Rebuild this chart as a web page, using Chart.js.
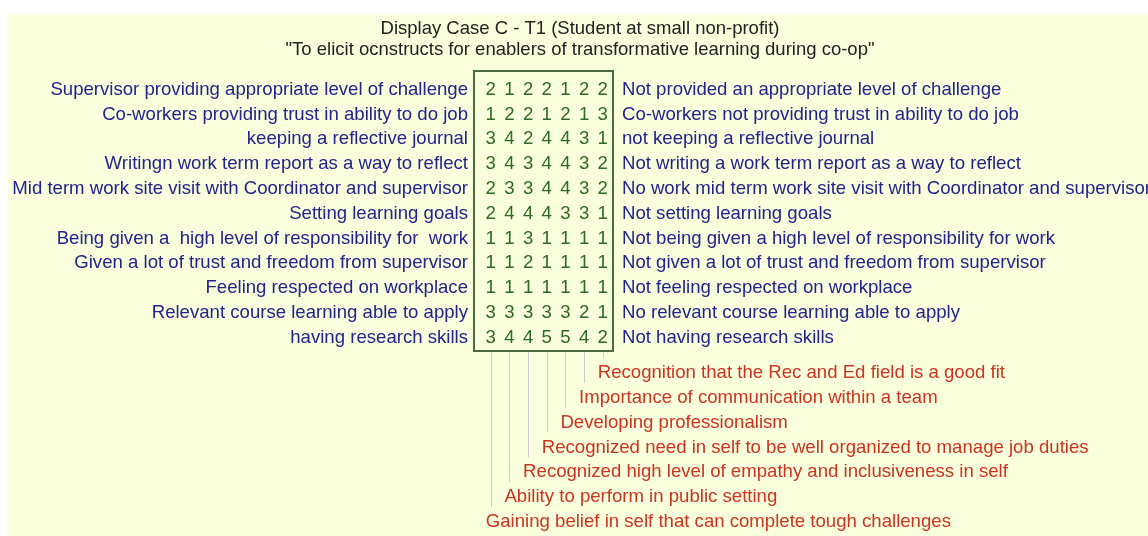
<!DOCTYPE html>
<html>
<head>
<meta charset="utf-8">
<script src="https://cdn.jsdelivr.net/npm/chart.js@4"></script>
<style>
  html, body { margin: 0; padding: 0; background: #ffffff; }
  canvas { display: block; }
</style>
</head>
<body>
<canvas id="c" width="1148" height="536"></canvas>
<script>
// ---- data ----
const titleLines = [
  "Display Case C - T1 (Student at small non-profit)",
  "\"To elicit ocnstructs for enablers of transformative learning during co-op\""
];
const leftPoles = [
  "Supervisor providing appropriate level of challenge",
  "Co-workers providing trust in ability to do job",
  "keeping a reflective journal",
  "Writingn work term report as a way to reflect",
  "Mid term work site visit with Coordinator and supervisor",
  "Setting learning goals",
  "Being given a  high level of responsibility for  work",
  "Given a lot of trust and freedom from supervisor",
  "Feeling respected on workplace",
  "Relevant course learning able to apply",
  "having research skills"
];
const rightPoles = [
  "Not provided an appropriate level of challenge",
  "Co-workers not providing trust in ability to do job",
  "not keeping a reflective journal",
  "Not writing a work term report as a way to reflect",
  "No work mid term work site visit with Coordinator and supervisor",
  "Not setting learning goals",
  "Not being given a high level of responsibility for work",
  "Not given a lot of trust and freedom from supervisor",
  "Not feeling respected on workplace",
  "No relevant course learning able to apply",
  "Not having research skills"
];
const elements = [
  "Gaining belief in self that can complete tough challenges",
  "Ability to perform in public setting",
  "Recognized high level of empathy and inclusiveness in self",
  "Recognized need in self to be well organized to manage job duties",
  "Developing professionalism",
  "Importance of communication within a team",
  "Recognition that the Rec and Ed field is a good fit"
];
const ratings = [
  [2, 1, 2, 2, 1, 2, 2],
  [1, 2, 2, 1, 2, 1, 3],
  [3, 4, 2, 4, 4, 3, 1],
  [3, 4, 3, 4, 4, 3, 2],
  [2, 3, 3, 4, 4, 3, 2],
  [2, 4, 4, 4, 3, 3, 1],
  [1, 1, 3, 1, 1, 1, 1],
  [1, 1, 2, 1, 1, 1, 1],
  [1, 1, 1, 1, 1, 1, 1],
  [3, 3, 3, 3, 3, 2, 1],
  [3, 4, 4, 5, 5, 4, 2]
];

// ---- build points ----
const cells = [];
ratings.forEach((row, r) => row.forEach((v, c) => cells.push({ x: c, y: r, v: v })));

const FONT = '18.6px "Liberation Sans", Arial, sans-serif';
const TITLE_FONT = '18.5px "Liberation Sans", Arial, sans-serif';
const C_BG = '#f9ffdc';
const C_GRID = '#4b6b3b';
const C_NUM = '#2f6a22';
const C_POLE = '#23238c';
const C_ELEM = '#cc3322';
const C_TITLE = '#222222';
const C_LINE = '#cbcbd0';

const gridPlugin = {
  id: 'repgrid',
  beforeDraw(chart) {
    const ctx = chart.ctx;
    ctx.save();
    ctx.fillStyle = C_BG;
    ctx.fillRect(8, 14, chart.width - 8, chart.height - 14);
    ctx.restore();
  },
  afterDatasetsDraw(chart) {
    const ctx = chart.ctx;
    const xs = chart.scales.x, ys = chart.scales.y;
    const area = chart.chartArea;
    ctx.save();
    ctx.textBaseline = 'middle';

    // title
    ctx.font = TITLE_FONT;
    ctx.fillStyle = C_TITLE;
    ctx.textAlign = 'center';
    const cx = 580;
    titleLines.forEach((t, i) => ctx.fillText(t, cx, 29 + i * 21));

    ctx.font = FONT;
    // box
    ctx.strokeStyle = C_GRID;
    ctx.lineWidth = 2;
    ctx.strokeRect(area.left, area.top, area.right - area.left, area.bottom - area.top);

    // cell values
    const meta = chart.getDatasetMeta(0);
    ctx.fillStyle = C_NUM;
    ctx.textAlign = 'center';
    meta.data.forEach((pt, i) => {
      ctx.fillText(String(cells[i].v), pt.x, pt.y + 1);
    });

    // poles
    leftPoles.forEach((t, r) => {
      const y = ys.getPixelForValue(r) + 1;
      ctx.fillStyle = C_POLE;
      ctx.textAlign = 'right';
      ctx.fillText(t, area.left - 6, y);
      ctx.textAlign = 'left';
      ctx.fillText(rightPoles[r], area.right + 9, y);
    });

    // element lines and labels
    const n = ratings.length;
    elements.forEach((t, c) => {
      const x = xs.getPixelForValue(c);
      const labelRow = n + 0.43 + (elements.length - 1 - c);
      const ly = ys.getPixelForValue(labelRow);
      ctx.strokeStyle = C_LINE;
      ctx.lineWidth = 1;
      ctx.beginPath();
      ctx.moveTo(Math.round(x) + 0.5, area.bottom + 1);
      ctx.lineTo(Math.round(x) + 0.5, ly - 14);
      ctx.stroke();
      ctx.fillStyle = C_ELEM;
      ctx.textAlign = 'left';
      ctx.fillText(t, x - 5, ly + 1);
    });
    ctx.restore();
  }
};

new Chart(document.getElementById('c'), {
  type: 'scatter',
  data: {
    datasets: [{
      data: cells,
      pointRadius: 0,
      pointHoverRadius: 0,
      showLine: false
    }]
  },
  options: {
    responsive: false,
    animation: false,
    events: [],
    layout: { padding: { left: 474, right: 535, top: 71, bottom: 185 } },
    plugins: { legend: { display: false }, tooltip: { enabled: false }, title: { display: false } },
    scales: {
      x: { type: 'linear', min: -0.9, max: 6.55, display: false },
      y: { type: 'linear', min: -0.71, max: 10.58, reverse: true, display: false }
    }
  },
  plugins: [gridPlugin]
});
</script>
</body>
</html>
